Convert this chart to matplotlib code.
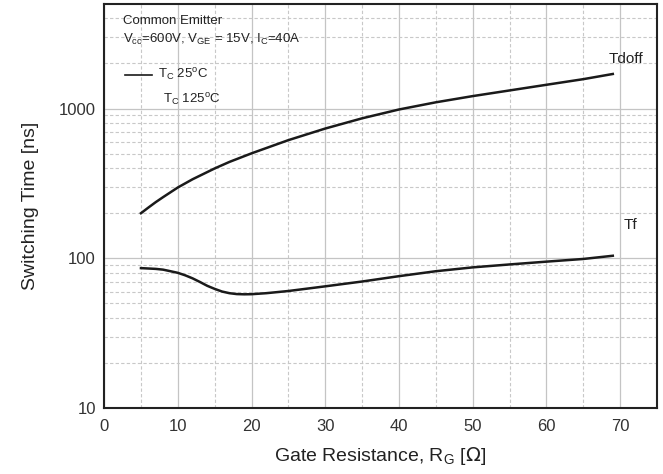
import matplotlib
matplotlib.use("Agg")
import matplotlib.pyplot as plt
from matplotlib.ticker import FixedLocator, NullFormatter

plt.rcParams['font.family'] = ['Liberation Sans', 'DejaVu Sans']

rg_tdoff = [5, 6, 7, 8, 10, 12, 15, 17, 20, 25, 30, 35, 40, 45, 50, 55, 60, 65, 69]
tdoff_25 = [200, 218, 237, 256, 297, 337, 398, 440, 502, 615, 735, 860, 985, 1100, 1210, 1320, 1440, 1570, 1700]

rg_tf = [5, 7, 8, 9, 10, 11, 12, 13, 14, 15, 16, 17, 18, 19, 20, 22, 25, 30, 35, 40, 45, 50, 55, 60, 65, 69]
tf_25 = [86, 85, 84, 82, 80, 77, 73.5, 69.5, 65.5, 62.5, 60, 58.5, 57.7, 57.5, 57.6, 58.5, 60.5, 65, 70, 76, 82, 87, 91, 95, 99, 104]

x_ticks = [0, 10, 20, 30, 40, 50, 60, 70]
x_minor = [5, 15, 25, 35, 45, 55, 65]
y_ticks = [10, 100, 1000]
y_tick_labels = ['10', '100', '1000']
y_minor = [20, 30, 40, 50, 60, 70, 80, 90, 200, 300, 400, 500, 600, 700, 800, 900, 2000, 3000, 4000]

fig = plt.figure(figsize=(6.63, 4.74), dpi=100)
ax = fig.add_axes([0.157, 0.139, 0.834, 0.853])
ax.set_yscale('log')
ax.set_xlim(0, 75)
ax.set_ylim(10, 5000)

ax.xaxis.set_major_locator(FixedLocator(x_ticks))
ax.xaxis.set_minor_locator(FixedLocator(x_minor))
ax.yaxis.set_major_locator(FixedLocator(y_ticks))
ax.yaxis.set_minor_locator(FixedLocator(y_minor))
ax.yaxis.set_minor_formatter(NullFormatter())
ax.set_yticklabels(y_tick_labels)

ax.grid(which='major', color='#c4c4c4', linestyle='-', linewidth=0.9)
ax.grid(which='minor', color='#c8c8c8', linestyle=(0, (3, 2)), linewidth=0.8)
ax.set_axisbelow(True)
ax.tick_params(which='both', length=0, labelsize=12, colors='#333333', pad=6)
ax.tick_params(axis='x', pad=8)

for s in ax.spines.values():
    s.set_linewidth(1.5)
    s.set_color('#222222')

ax.plot(rg_tdoff, tdoff_25, color='#1a1a1a', linewidth=1.8, solid_joinstyle='round')
ax.plot(rg_tf, tf_25, color='#1a1a1a', linewidth=1.8, solid_joinstyle='round')

ax.text(68.4, 2150, 'Tdoff', fontsize=11, color='#222222', va='center', ha='left')
ax.text(70.5, 168, 'Tf', fontsize=11, color='#222222', va='center', ha='left')

ax.set_xlabel(r'Gate Resistance, R$_\mathregular{G}$ [$\Omega$]', fontsize=14, color='#222222', labelpad=8)
ax.set_ylabel('Switching Time [ns]', fontsize=14, color='#222222', labelpad=14)

ta = ax.transAxes
ax.text(0.034, 0.957, 'Common Emitter', transform=ta, fontsize=9.5, color='#222222', va='center')
ax.text(0.034, 0.912, r'V$_\mathregular{cc}$=600V, V$_\mathregular{GE}$ = 15V, I$_\mathregular{C}$=40A',
        transform=ta, fontsize=9.5, color='#222222', va='center')
ax.plot([0.038, 0.087], [0.825, 0.825], transform=ta, color='#1a1a1a', linewidth=1.2)
ax.text(0.097, 0.825, r'T$_\mathregular{C}$ 25$^\mathregular{o}$C', transform=ta, fontsize=9.5, color='#222222', va='center')
ax.text(0.107, 0.763, r'T$_\mathregular{C}$ 125$^\mathregular{o}$C', transform=ta, fontsize=9.5, color='#222222', va='center')

fig.savefig('out.png', dpi=100)
